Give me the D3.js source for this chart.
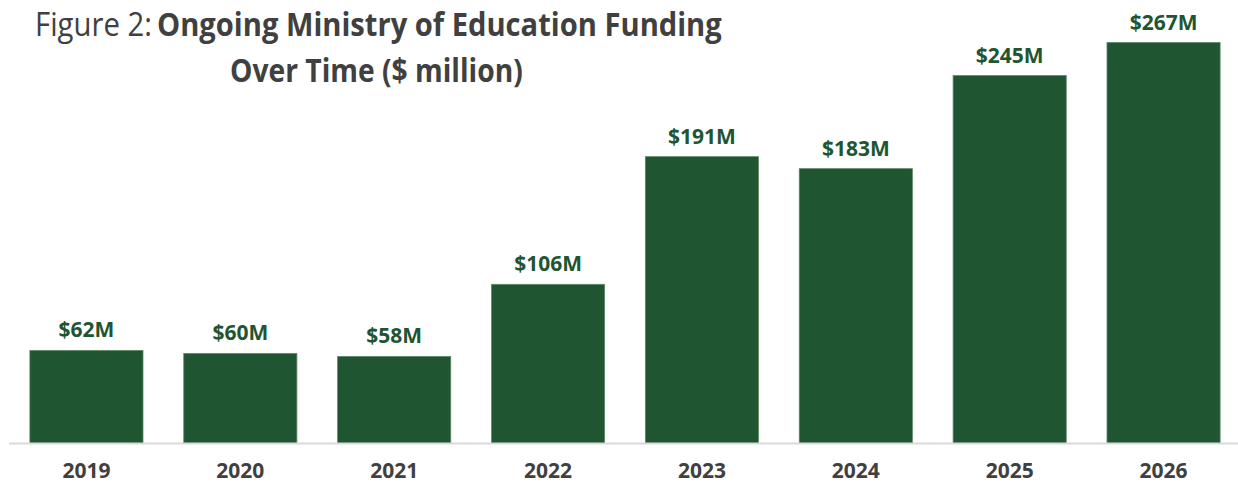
<!DOCTYPE html>
<html>
<head>
<meta charset="utf-8">
<script src="https://cdn.jsdelivr.net/npm/d3@7"></script>
<style>
  html, body { margin: 0; padding: 0; background: #ffffff; }
  svg { display: block; }
</style>
</head>
<body>
<svg id="chart" width="1238" height="484"></svg>
<script>
// Ongoing Ministry of Education funding by year ($ million)
const years = ["2019", "2020", "2021", "2022", "2023", "2024", "2025", "2026"];
const funding = [62, 60, 58, 106, 191, 183, 245, 267];
const valueLabels = ["$62M", "$60M", "$58M", "$106M", "$191M", "$183M", "$245M", "$267M"];

const W = 1238, H = 484;
const baseline = 443.5;
const barColor = "#1f5530";
const labelColor = "#1f5530";
const textGray = "#404040";

const svg = d3.select("#chart");

const x = d3.scaleBand()
  .domain(years)
  .range([9.5, 1240.5])
  .paddingInner(0.2647)
  .paddingOuter(0.1324);

const y = d3.scaleLinear()
  .domain([0, 267])
  .range([baseline, 42.5]);

// Bars
svg.append("g")
  .selectAll("rect")
  .data(years)
  .join("rect")
  .attr("x", d => x(d))
  .attr("width", x.bandwidth())
  .attr("y", (d, i) => y(funding[i]))
  .attr("height", (d, i) => baseline - y(funding[i]))
  .attr("fill", barColor)
  .attr("stroke", "#5f8a66")
  .attr("stroke-width", 0.8);

// Category axis along the baseline
const xAxis = svg.append("g")
  .attr("transform", `translate(0,${baseline})`)
  .call(d3.axisBottom(x).tickSize(0).tickPadding(0));
xAxis.select(".domain")
  .attr("d", `M9,0H${W}`)
  .attr("stroke", "#d9d9d9")
  .attr("stroke-width", 2);
xAxis.selectAll(".tick text")
  .attr("y", 34)
  .attr("dy", null)
  .attr("fill", textGray)
  .attr("font-family", "'Open Sans', sans-serif")
  .attr("font-weight", 700)
  .attr("font-size", 21);

// Value labels above bars
svg.append("g")
  .selectAll("text")
  .data(years)
  .join("text")
  .attr("x", d => x(d) + x.bandwidth() / 2)
  .attr("y", (d, i) => y(funding[i]) - 13)
  .attr("text-anchor", "middle")
  .attr("fill", labelColor)
  .attr("font-family", "'Open Sans', sans-serif")
  .attr("font-weight", 700)
  .attr("font-size", 21)
  .text((d, i) => valueLabels[i]);

// Title: each run squeezed horizontally into its span
function fitText(txt, weight, x0, x1, yy) {
  const sel = svg.append("text")
    .attr("x", 0).attr("y", 0)
    .attr("fill", textGray)
    .attr("font-family", "'Open Sans', sans-serif")
    .attr("font-size", 32)
    .attr("font-weight", weight)
    .text(txt);
  const s = (x1 - x0) / sel.node().getComputedTextLength();
  sel.attr("transform", `translate(${x0},${yy}) scale(${s},1)`);
  return sel;
}

fitText("Figure 2:", 400, 35, 152, 36);
fitText("Ongoing Ministry of Education Funding", 700, 157, 722, 36);
fitText("Over Time ($ million)", 700, 230, 523, 82);
</script>
</body>
</html>
